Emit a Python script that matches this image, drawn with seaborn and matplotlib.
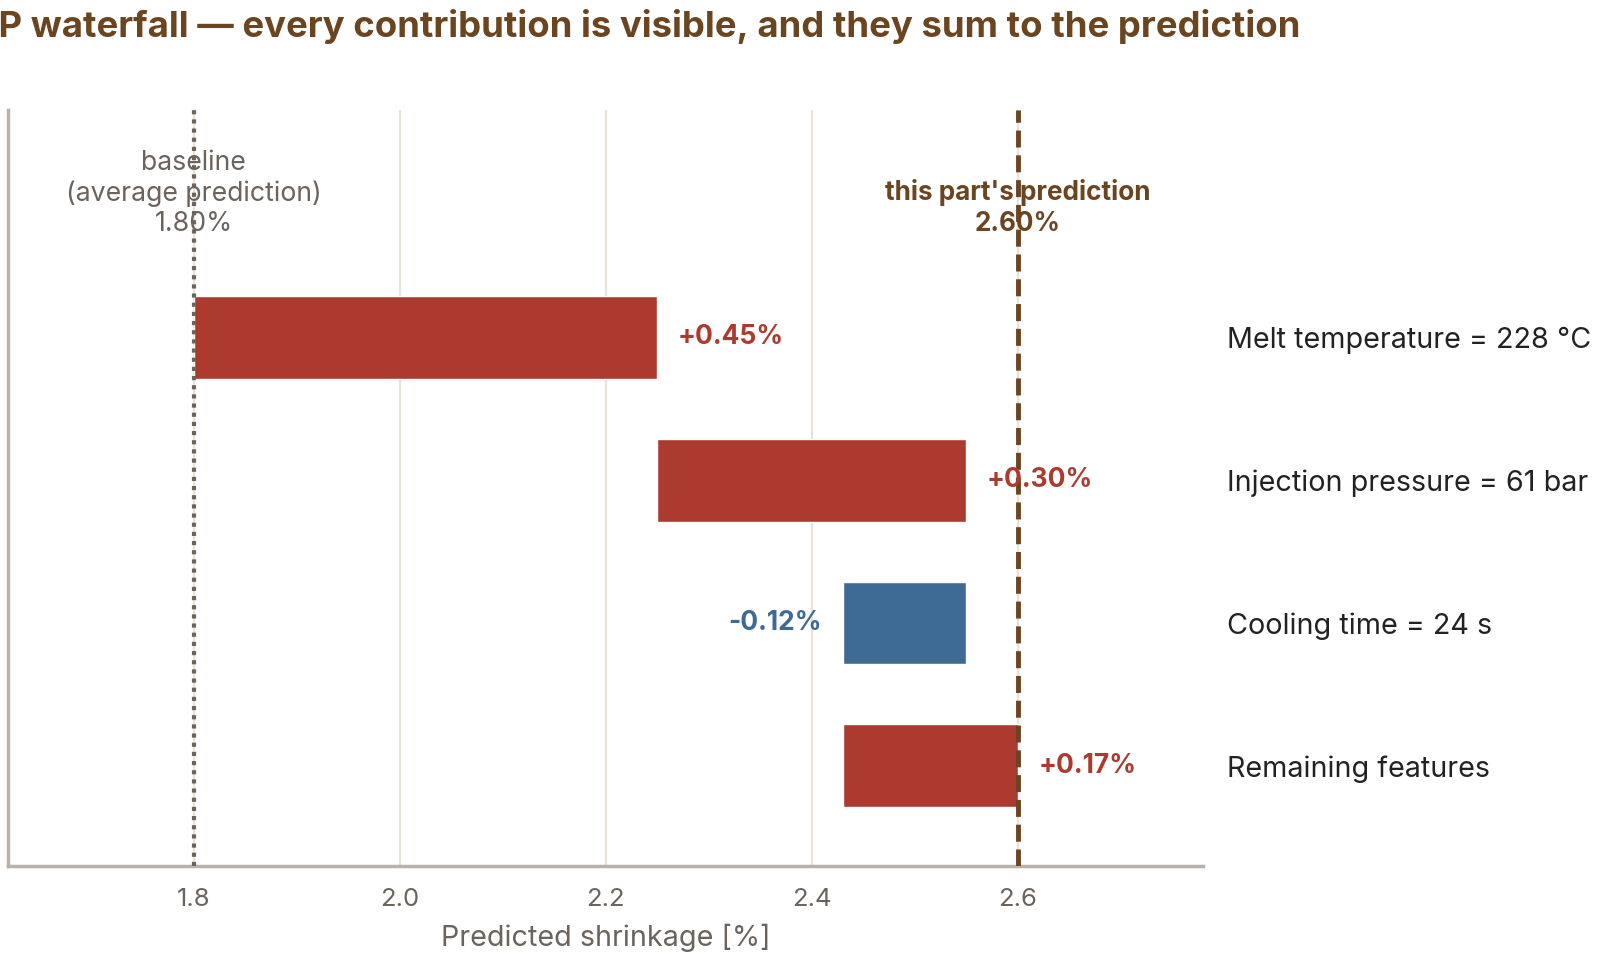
import numpy as np
import pandas as pd
import matplotlib
matplotlib.use("Agg")
import matplotlib.pyplot as plt
import seaborn as sns

# ---- data ----
features = ["Melt temperature = 228 °C", "Injection pressure = 61 bar",
            "Cooling time = 24 s", "Remaining features"]
contributions = [0.45, 0.30, -0.12, 0.17]
baseline = 1.80
prediction = 2.60
xticks = [1.8, 2.0, 2.2, 2.4, 2.6]

RED = "#ad3a2f"
BLUE = "#3e6a96"
BROWN = "#6b4420"
GRAY = "#6b635c"
SPINE = "#bab2a9"
GRID = "#e7e3d8"

sns.set_theme(style="white")
plt.rcParams['font.family'] = ['Inter', 'DejaVu Sans']

fig = plt.figure(figsize=(16, 9.6), dpi=100)
ax = fig.add_axes([0.0051, 0.098, 0.7469, 0.7875])

starts = baseline + np.concatenate([[0], np.cumsum(contributions)[:-1]])
colors = [RED if c > 0 else BLUE for c in contributions]
df = pd.DataFrame({"feature": features, "contrib": contributions})
sns.barplot(data=df, x="contrib", y="feature", hue="feature", palette=colors,
            orient="h", width=0.58, legend=False, ax=ax, saturation=1)
for p, s in zip(ax.patches, starts):
    p.set_x(s)
    p.set_zorder(3)

ax.set_xlim(1.62, 2.78)
ax.set_ylim(3.7, -1.59)

# grid
for t in xticks:
    ax.axvline(t, color=GRID, lw=1.6, zorder=0)
ax.axvline(baseline, color=GRAY, lw=3, ls=(0, (1, 1.2)), zorder=4)
ax.axvline(prediction, color=BROWN, lw=3.5, ls=(0, (3.5, 1.6)), zorder=4)

# value labels
for i, (s, c) in enumerate(zip(starts, contributions)):
    end = s + c
    lab = f"{c:+.2f}%"
    if c > 0:
        ax.text(end + 0.02, i, lab, ha="left", va="center", color=RED,
                fontsize=19, fontweight="bold", zorder=5)
    else:
        ax.text(end - 0.02, i, lab, ha="right", va="center", color=BLUE,
                fontsize=19, fontweight="bold", zorder=5)

ax.text(baseline, -1.005, "baseline\n(average prediction)\n1.80%", ha="center",
        va="center", color=GRAY, fontsize=19.2, linespacing=1.22, zorder=5)
ax.text(prediction, -0.905, "this part's prediction\n2.60%", ha="center",
        va="center", color=BROWN, fontsize=18.8, fontweight="bold",
        linespacing=1.22, zorder=5)

ax.set_xticks(xticks)
ax.set_xticklabels([f"{t:.1f}" for t in xticks])
ax.tick_params(axis="x", length=0, pad=16, labelsize=18.5, labelcolor=GRAY)
ax.yaxis.tick_right()
ax.set_yticks(range(len(features)))
ax.set_yticklabels(features)
ax.tick_params(axis="y", length=0, pad=17, labelsize=20.7, labelcolor="#222222")
ax.set_ylabel("")
ax.set_xlabel("Predicted shrinkage [%]", fontsize=20.7, color=GRAY, labelpad=9)

for side in ["top", "right"]:
    ax.spines[side].set_visible(False)
for side in ["left", "bottom"]:
    ax.spines[side].set_color(SPINE)
    ax.spines[side].set_linewidth(2.5)

# title, clipped on the left like the reference
title = "SHAP waterfall — every contribution is visible, and they sum to the prediction"
TS = 26.3
fig.canvas.draw()
r = fig.canvas.get_renderer()
tmp = fig.text(0, 0, "SHA", fontsize=TS, fontweight="bold")
w = tmp.get_window_extent(renderer=r).width
tmp.remove()
fig.text(-w / 1600 - 0.001, 1 - 26.5 / 960, title, ha="left", va="center",
         fontsize=TS, fontweight="bold", color=BROWN)

fig.savefig("out.png", dpi=100, facecolor="white")
